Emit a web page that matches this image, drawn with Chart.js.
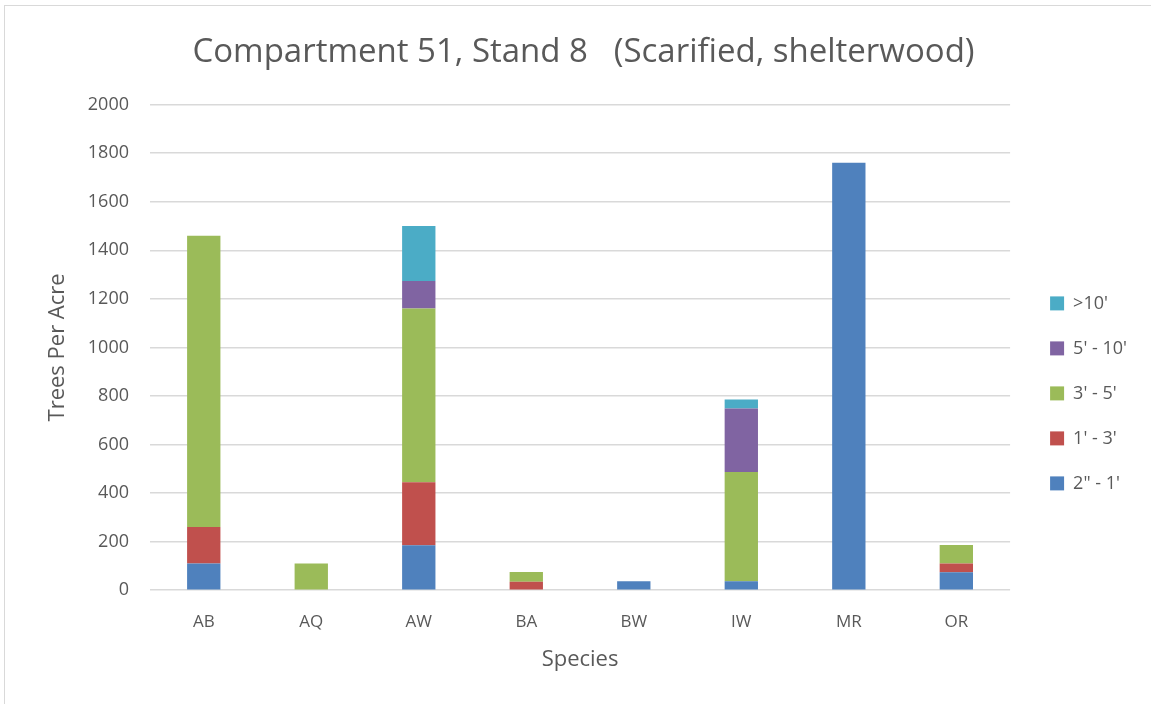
<!DOCTYPE html>
<html>
<head>
<meta charset="utf-8">
<script src="https://cdn.jsdelivr.net/npm/chart.js@4.4.1/dist/chart.umd.min.js"></script>
<style>
  body { margin: 0; background: #fff; }
  #frame { position: absolute; left: 4px; top: 5px; width: 1170px; height: 720px; border: 1px solid #d9d9d9; }
  #wrap { position: absolute; left: 0; top: 0; width: 1151px; height: 704px; }
</style>
</head>
<body>
<div id="frame"></div>
<div id="wrap"><canvas id="standChart" width="1151" height="704"></canvas></div>
<script>
    // species along the x axis
    var species = ['AB', 'AQ', 'AW', 'BA', 'BW', 'IW', 'MR', 'OR'];
    var yTicks = [0, 200, 400, 600, 800, 1000, 1200, 1400, 1600, 1800, 2000];

    // trees per acre by height class
    var h2in1ft  = [110, 0, 185, 0, 37, 37, 1760, 74];
    var h1to3    = [150, 0, 260, 35, 0, 0, 0, 36];
    var h3to5    = [1200, 110, 715, 40, 0, 450, 0, 76];
    var h5to10   = [0, 0, 113, 0, 0, 261, 0, 0];
    var hOver10  = [0, 0, 227, 0, 0, 37, 0, 0];

    var grey = '#595959';
    var font = "'Open Sans', sans-serif";

    function ds(label, data, color) {
        return { label: label, data: data, backgroundColor: color, borderWidth: 0,
                 categoryPercentage: 1, barPercentage: 0.31 };
    }

    var ctx = document.getElementById('standChart').getContext('2d');
    new Chart(ctx, {
        type: 'bar',
        data: {
            labels: species,
            datasets: [
                ds('2" - 1\'', h2in1ft, '#4f81bd'),
                ds("1' - 3'", h1to3, '#c0504d'),
                ds("3' - 5'", h3to5, '#9bbb59'),
                ds("5' - 10'", h5to10, '#8064a2'),
                ds(">10'", hOver10, '#4bacc6')
            ]
        },
        options: {
            responsive: false,
            animation: false,
            layout: { padding: { left: 30, right: 14, top: 33, bottom: 27 } },
            plugins: {
                title: {
                    display: true,
                    text: 'Compartment 51, Stand 8   (Scarified, shelterwood)',
                    color: grey,
                    font: { family: font, size: 33, weight: 'normal' },
                    padding: { top: 0, bottom: 32 }
                },
                legend: {
                    position: 'right',
                    reverse: true,
                    title: { display: true, text: ' ', padding: { top: 30, bottom: 30 },
                             font: { family: font, size: 14 } },
                    labels: {
                        color: grey,
                        font: { family: font, size: 18 },
                        boxWidth: 14,
                        boxHeight: 14,
                        padding: 27
                    }
                },
                tooltip: { enabled: false }
            },
            scales: {
                x: {
                    stacked: true,
                    grid: { display: false },
                    border: { display: false },
                    ticks: { color: grey, font: { family: font, size: 17 }, padding: 14 },
                    title: { display: true, text: 'Species', color: grey,
                             font: { family: font, size: 22 }, padding: { top: 0 } }
                },
                y: {
                    stacked: true,
                    min: 0,
                    max: 2000,
                    afterBuildTicks: function (scale) {
                        scale.ticks = yTicks.map(function (v) { return { value: v }; });
                    },
                    afterFit: function (scale) { scale.width = 120; },
                    grid: { color: '#d9d9d9', lineWidth: 1.5, drawTicks: false },
                    border: { display: false },
                    ticks: { color: grey, font: { family: font, size: 18 }, padding: 21,
                             callback: function (v) { return String(v); } },
                    title: { display: true, text: 'Trees Per Acre', color: grey,
                             font: { family: font, size: 22 }, padding: { top: 15, bottom: 0 } }
                },
                // empty strip between the plot and the legend
                gap: {
                    position: 'right',
                    stacked: true,
                    grid: { display: false },
                    border: { display: false },
                    ticks: { display: false },
                    afterFit: function (scale) { scale.width = 13; }
                }
            }
        }
    });
</script>
</body>
</html>
